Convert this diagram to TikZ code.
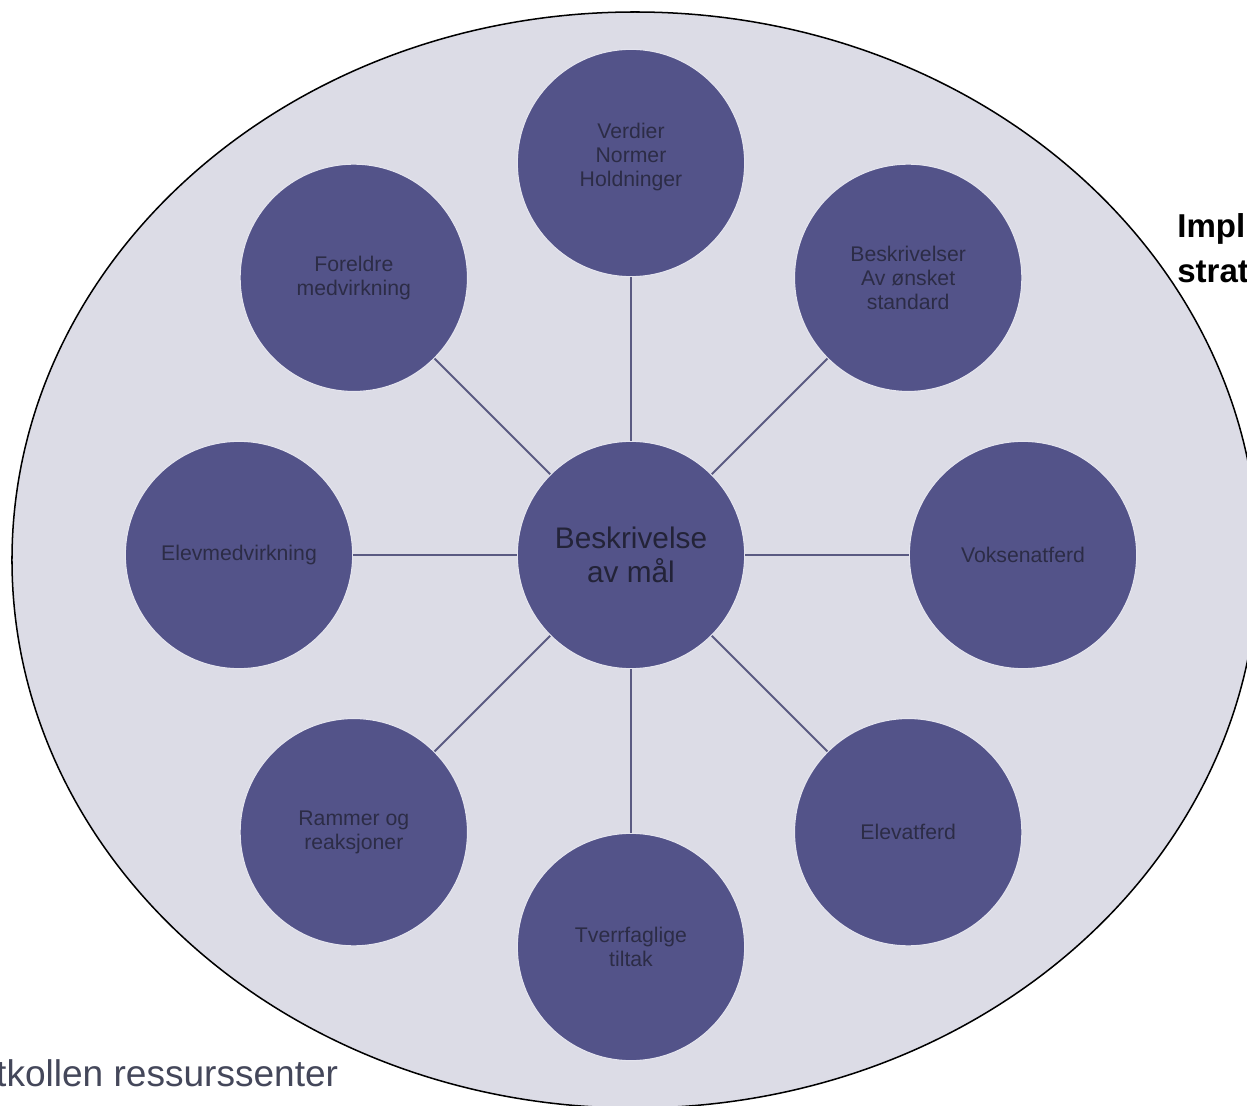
\documentclass[tikz,border=0pt]{standalone}
\usepackage{fontspec}
\setmainfont{Liberation Sans}
\usepackage{tikz}
\definecolor{fieldbg}{HTML}{DCDCE6}
\definecolor{discfill}{HTML}{535389}
\definecolor{discrim}{HTML}{E4E4EE}
\definecolor{disctext}{HTML}{2C2C46}
\definecolor{spoke}{HTML}{5A5A82}
\definecolor{foottext}{HTML}{44475A}
\usetikzlibrary{positioning}

\begin{document}
\begin{tikzpicture}[
  disc/.style={circle, fill=discfill, draw=discrim, line width=0.8pt,
               minimum size=5.8cm, inner sep=0pt, align=center,
               text=disctext, font=\fontsize{15.4}{17.4}\selectfont},
  hub/.style={disc, font=\fontsize{21.6}{24.7}\selectfont, text=disctext!80!black},
  link/.style={line width=1.4pt, spoke}
]
\clip (-16.097,-14.031) rectangle (15.714,14.158);

\fill[white] (-16.097,-14.031) rectangle (15.714,14.158);
\draw[fill=fieldbg, line width=1.1pt] (0.102,-0.128) ellipse [x radius=15.893, y radius=13.98];

\node[hub] (goal) at (0,0) {Beskrivelse\\av mål};

\node[disc] (values)  at (90:10)  {Verdier\\Normer\\Holdninger\\[-6pt]};
\node[disc] (parents) at (135:10) {Foreldre\\medvirkning};
\node[disc] (standard) at (45:10) {Beskrivelser\\Av ønsket\\standard};
\node[disc] (pupil)   at (180:10) {Elevmedvirkning};
\node[disc] (adult)   at (0:10)   {Voksenatferd};
\node[disc] (frames)  at (225:10) {Rammer og\\reaksjoner};
\node[disc] (conduct) at (315:10) {Elevatferd};
\node[disc] (cross)   at (270:10) {Tverrfaglige\\tiltak};

\draw[link] (goal) -- (values);
\draw[link] (goal) -- (parents);
\draw[link] (goal) -- (standard);
\draw[link] (goal) -- (pupil);
\draw[link] (goal) -- (adult);
\draw[link] (goal) -- (frames);
\draw[link] (goal) -- (conduct);
\draw[link] (goal) -- (cross);

\node[anchor=north west, inner sep=0pt, align=left,
      font=\fontsize{24}{32.7}\selectfont\bfseries] (impl) at (13.93,8.72) {Impl\\strat};
\node[anchor=base west, inner sep=0pt, text=foottext,
      font=\fontsize{26.9}{30}\selectfont] (source) at (-16.2,-13.55) {tkollen ressurssenter};

\end{tikzpicture}
\end{document}
